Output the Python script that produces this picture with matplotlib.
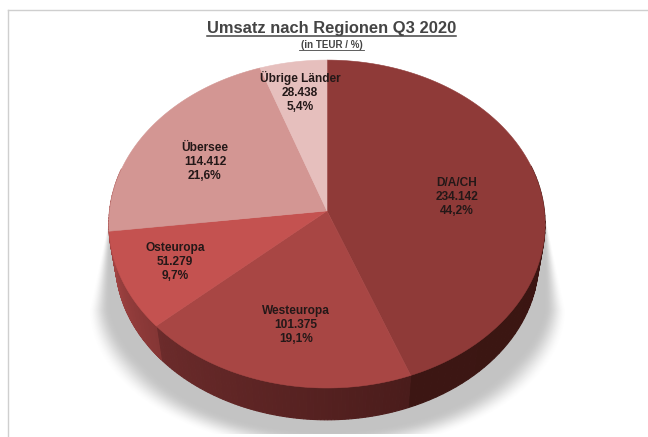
import numpy as np
import matplotlib
matplotlib.use('Agg')
import matplotlib.pyplot as plt
from matplotlib.colors import to_rgb

plt.rcParams['font.family'] = ['Liberation Sans', 'DejaVu Sans']

regions = ['D/A/CH', 'Westeuropa', 'Osteuropa', 'Übersee', 'Übrige Länder']
umsatz = [234142, 101375, 51279, 114412, 28438]
umsatz_txt = ['234.142', '101.375', '51.279', '114.412', '28.438']
anteil_txt = ['44,2%', '19,1%', '9,7%', '21,6%', '5,4%']

top_colors = ['#8f3a38', '#a84644', '#c45250', '#d39693', '#e6bfbd']
# wall colour at start and end of each slice (clockwise)
wall_start = ['#38140f', '#4a1c1b', '#853635', '#a34443', '#a34443']
wall_end = ['#3c1613', '#6c2b2b', '#a34443', '#a34443', '#a34443']
label_pos = [(457, 197), (296, 325), (175, 262), (205, 162), (300, 92)]

W, H = 648, 437
fig = plt.figure(figsize=(W / 100, H / 100), dpi=100, facecolor='white')
ax = fig.add_axes([0, 0, 1, 1])
ax.set_xlim(0, W)
ax.set_ylim(H, 0)
ax.axis('off')


# perspective view of the unit disc, angle clockwise from 12 o'clock
def rim(theta, bottom=False):
    X, Y = np.sin(theta), np.cos(theta)
    u = 217.4 * X / (1 + 0.08 * Y)
    v = 210.9 - 162.9 * Y / (1 + 0.08 * Y)
    if bottom:
        u = u * 0.97
        v = 216 + (v - 216) * 0.97 + 37
    return 327 + u, v


# cast shadow as an image under the pie
yy, xx = np.mgrid[0:H, 0:W]
half = 220 + (yy - 225) * 19 / 85
s = np.abs(xx - 327) / half
low = yy > 310
s[low] = np.sqrt(((xx[low] - 327) / 239.0) ** 2 + ((yy[low] - 310) / 142.0) ** 2)
soft = np.clip(0.015 + (yy - 225) * 0.075 / 85, 0.015, 0.14)
fade = np.clip((1 - s) / soft, 0, 1)
fade = fade * fade * (3 - 2 * fade)
fade[(yy < 222) | (yy > 433)] = 0
shadow = np.ones((H, W, 4))
shadow[..., :3] = 0.45
shadow[..., 3] = 0.42 * fade
ax.imshow(shadow, extent=(0, W, H, 0), aspect='auto', zorder=0, interpolation='nearest')
ax.set_xlim(0, W)
ax.set_ylim(H, 0)

# side wall
edges = np.cumsum([0] + umsatz) / sum(umsatz) * 2 * np.pi
for k in range(len(umsatz)):
    c0, c1 = np.array(to_rgb(wall_start[k])), np.array(to_rgb(wall_end[k]))
    steps = 80
    th = np.linspace(edges[k], edges[k + 1], steps + 1)
    for j in range(steps):
        if np.cos(th[j]) > 0.25 and np.cos(th[j + 1]) > 0.25:
            continue
        x0, y0 = rim(th[j])
        x1, y1 = rim(th[j + 1])
        x2, y2 = rim(th[j + 1], True)
        x3, y3 = rim(th[j], True)
        col = c0 + (c1 - c0) * j / steps
        ax.fill([x0, x1, x2, x3], [y0, y1, y2, y3], color=col, lw=0.8, zorder=2)

# top face
for k in range(len(umsatz)):
    th = np.linspace(edges[k], edges[k + 1], 120)
    px, py = rim(th)
    ax.fill(np.r_[327, px], np.r_[210.9, py], color=top_colors[k], lw=0.4, zorder=3)

for k, name in enumerate(regions):
    x, y = label_pos[k]
    ax.text(x, y, name + '\n' + umsatz_txt[k] + '\n' + anteil_txt[k],
            ha='center', va='center', fontsize=8.6, fontweight='bold', color='#241818',
            linespacing=1.17, zorder=10)

# title with underline
ax.text(331.5, 28, 'Umsatz nach Regionen Q3 2020', ha='center', va='center',
        fontsize=11.85, fontweight='bold', color='#444444')
ax.plot([207, 456], [36, 36], color='#444444', lw=1.1, zorder=5)
ax.text(331.5, 45, '(in TEUR / %)', ha='center', va='center',
        fontsize=7.0, fontweight='bold', color='#444444')
ax.plot([299, 364], [49.5, 49.5], color='#444444', lw=0.6, zorder=5)

# outer frame
ax.plot([8, 8], [H, 9.5], color='#cfcfcf', lw=1.0, zorder=1)
ax.plot([8, W], [9.5, 9.5], color='#cfcfcf', lw=1.0, zorder=1)

plt.savefig('out.png', dpi=100)
